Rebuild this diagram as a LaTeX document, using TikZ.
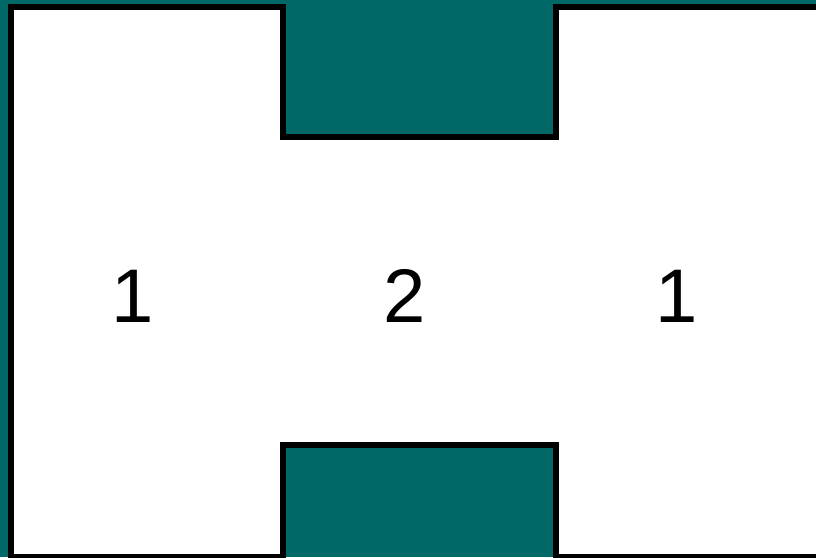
\documentclass[tikz,border=0pt]{standalone}
\usepackage{fontspec}
\setmainfont{Liberation Sans}
\definecolor{deepteal}{RGB}{0,104,102}
\begin{document}
\begin{tikzpicture}[x=1pt,y=-1pt,line join=miter,font=\fontsize{76}{80}\selectfont]
		\clip (0,0) rectangle (816,557);
		\fill[deepteal] (0,0) rectangle (816,557);
		\draw[line width=6pt,fill=white] (11,7)--(283,7)--(283,137)--(556,137)--(556,7)--(830,7)--(830,557)--(556,557)--(556,445)--(283,445)--(283,557)--(11,557)--cycle;
		\node[anchor=base] (left) at (133,322) {1};
		\node[anchor=base] (mid) at (405,322) {2};
		\node[anchor=base] (right) at (677,322) {1};
\end{tikzpicture}
\end{document}
